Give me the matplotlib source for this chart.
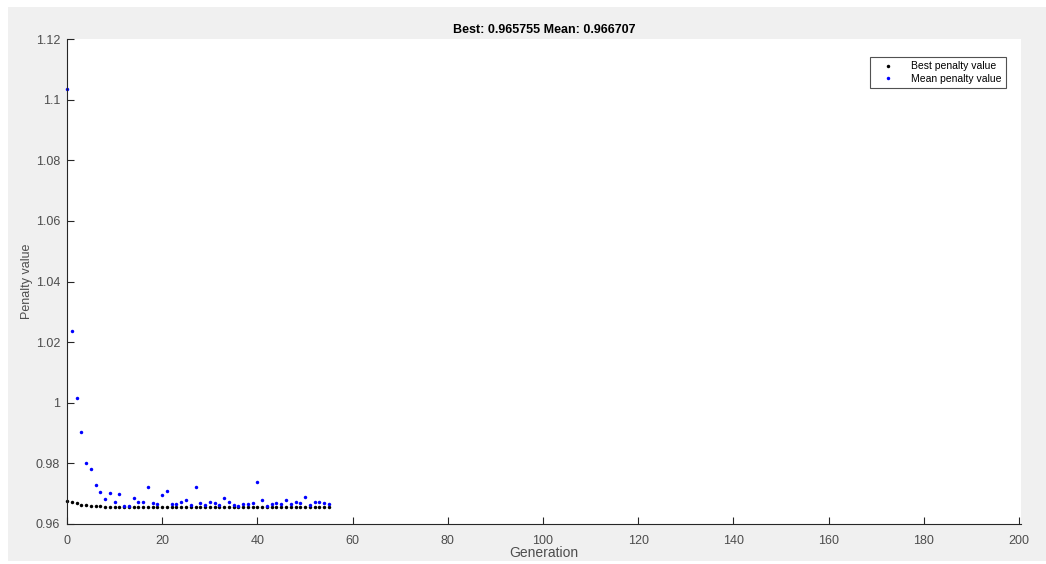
import matplotlib
matplotlib.use("Agg")
import matplotlib.pyplot as plt
from matplotlib.patches import Rectangle

generations = list(range(56))
best_values = [0.9675, 0.9672, 0.9669, 0.9664, 0.9662, 0.9659, 0.9658, 0.96578] + [0.965755] * 48
mean_values = [1.1035, 1.0237, 1.0015, 0.9903, 0.9800, 0.9782, 0.9730, 0.9706, 0.9682, 0.9701,
               0.9672, 0.9699, 0.9661, 0.9661, 0.9686, 0.9674, 0.9674, 0.9721, 0.9668, 0.9666,
               0.9697, 0.9708, 0.9666, 0.9666, 0.9672, 0.9678, 0.9663, 0.9723, 0.9670, 0.9663,
               0.9672, 0.9668, 0.9663, 0.9686, 0.9672, 0.9663, 0.9660, 0.9666, 0.9666, 0.9670,
               0.9740, 0.9679, 0.9660, 0.9666, 0.9670, 0.9666, 0.9678, 0.9666, 0.9674, 0.9668,
               0.9688, 0.9663, 0.9672, 0.9671, 0.9670, 0.966707]
x_ticks = list(range(0, 201, 20))
y_ticks = [0.96, 0.98, 1.0, 1.02, 1.04, 1.06, 1.08, 1.1, 1.12]
y_tick_labels = ["0.96", "0.98", "1", "1.02", "1.04", "1.06", "1.08", "1.1", "1.12"]

plt.rcParams['font.family'] = ['Liberation Sans', 'DejaVu Sans']

W, H = 1046, 564
fig = plt.figure(figsize=(W / 100, H / 100), dpi=100, facecolor='white')
fig.patches.append(Rectangle((8 / W, 3 / H), (1046 - 8) / W, (557 - 3) / H,
                             transform=fig.transFigure, facecolor='#f0f0f0',
                             edgecolor='none', zorder=-10))

ax_w = 1021 - 67
ax_h = 524 - 39
ax = fig.add_axes([67 / W, 1 - 524 / H, ax_w / W, ax_h / H])
ax.set_facecolor('white')

ax.plot(generations, best_values, linestyle='none', marker='o', markersize=2.5,
        markeredgewidth=0, color='black', label='Best penalty value', clip_on=False)
ax.plot(generations, mean_values, linestyle='none', marker='o', markersize=2.5,
        markeredgewidth=0, color='blue', label='Mean penalty value', clip_on=False)

ax.set_xlim(0, 200.4)
ax.set_ylim(0.96, 1.12)
ax.set_xticks(x_ticks)
ax.set_yticks(y_ticks)
ax.set_yticklabels(y_tick_labels)

axis_color = '#262626'
ax.spines['top'].set_visible(False)
ax.spines['right'].set_visible(False)
for s in ('left', 'bottom'):
    ax.spines[s].set_color(axis_color)
    ax.spines[s].set_linewidth(0.8)
ax.tick_params(direction='in', length=5, width=0.8, colors=axis_color,
               labelsize=9, labelcolor='#4d4d4d', top=False, right=False)
ax.tick_params(axis='x', pad=8)
ax.tick_params(axis='y', pad=5)

ax.set_xlabel('Generation', fontsize=10, color='#4d4d4d')
ax.set_ylabel('Penalty value', fontsize=9, color='#4d4d4d')
ax.xaxis.set_label_coords(0.5, (524 - 546) / ax_h)
ax.yaxis.set_label_coords((33 - 67) / ax_w, 0.5)
ax.set_title('Best: 0.965755 Mean: 0.966707', fontsize=9, fontweight='bold',
             color='black', pad=4)

leg = ax.legend(loc='upper right', bbox_to_anchor=(0.9895, 0.973), fontsize=7.5,
                frameon=True, fancybox=False, edgecolor='#262626', markerscale=1.0,
                handlelength=2.5, borderpad=0.4, labelspacing=0.25, handletextpad=1.0)
leg.get_frame().set_linewidth(0.8)

fig.savefig('out.png', dpi=100, facecolor=fig.get_facecolor())
